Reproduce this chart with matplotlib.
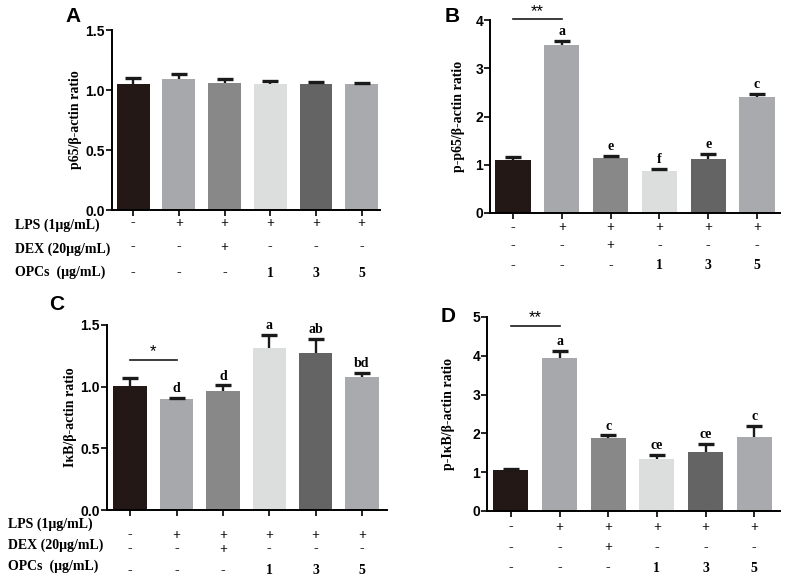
import matplotlib
matplotlib.use("Agg")
import matplotlib.pyplot as plt
from matplotlib.transforms import blended_transform_factory
import numpy as np

W, H = 787, 581

groups = ["Control", "LPS", "LPS+DEX", "LPS+OPCs1", "LPS+OPCs3", "LPS+OPCs5"]
colors = ["#231815", "#a7a8ac", "#878887", "#dcdddd", "#656464", "#a9aaad"]

lps_row = ["-", "+", "+", "+", "+", "+"]
dex_row = ["-", "-", "+", "-", "-", "-"]
opc_row = ["-", "-", "-", "1", "3", "5"]
row_names = ["LPS (1\u03bcg/mL)", "DEX (20\u03bcg/mL)", "OPCs  (\u03bcg/mL)"]

a_mean = [1.05, 1.09, 1.06, 1.05, 1.05, 1.05]
a_err = [0.05, 0.045, 0.035, 0.028, 0.014, 0.006]
a_letters = ["", "", "", "", "", ""]

b_mean = [1.09, 3.48, 1.15, 0.87, 1.11, 2.40]
b_err = [0.08, 0.09, 0.04, 0.05, 0.11, 0.07]
b_letters = ["", "a", "e", "f", "e", "c"]

c_mean = [1.005, 0.90, 0.965, 1.31, 1.275, 1.075]
c_err = [0.065, 0.008, 0.045, 0.11, 0.115, 0.035]
c_letters = ["", "d", "d", "a", "ab", "bd"]

d_mean = [1.05, 3.95, 1.87, 1.35, 1.52, 1.91]
d_err = [0.04, 0.17, 0.08, 0.09, 0.21, 0.29]
d_letters = ["", "a", "c", "ce", "ce", "c"]

fig = plt.figure(figsize=(W / 100, H / 100), dpi=100)

SANS = ["Liberation Sans", "DejaVu Sans"]
SERIF = ["Liberation Serif", "DejaVu Serif"]


def px_axes(x0, x1, ytop, ybot):
    return fig.add_axes([x0 / W, 1 - ybot / H, (x1 - x0) / W, (ybot - ytop) / H])


def fy(y):
    return 1 - y / H


def panel(ax, means, errs, letters, ymax, ystep, yfmt, ylabel, xlim,
          letter, letter_xy, ylab_x, rows_y, names_xy, sig=None):
    x = np.arange(len(means))
    ax.bar(x, means, width=0.72, color=colors, edgecolor="none", zorder=2)
    eb = ax.errorbar(x, means, yerr=[np.zeros(len(errs)), errs], fmt="none",
                     ecolor="#1a1a1a", elinewidth=1.7, capsize=5.5, capthick=2.4,
                     zorder=3)
    caps = eb.lines[1]
    if len(caps) > 1:
        caps[0].set_visible(False)
    ax.set_xlim(*xlim)
    ax.set_ylim(0, ymax)
    ticks = np.arange(0, ymax + 1e-9, ystep)
    ax.set_yticks(ticks)
    ax.set_yticklabels([yfmt.format(t) for t in ticks], family=SANS,
                       fontweight="bold", fontsize=10)
    ax.set_xticks(x)
    ax.set_xticklabels([])
    for s in ["top", "right"]:
        ax.spines[s].set_visible(False)
    for s in ["left", "bottom"]:
        ax.spines[s].set_linewidth(1.4)
    ax.tick_params(axis="both", direction="out", length=4, width=1.2, pad=1)
    ax.set_ylabel(ylabel, family=SERIF, fontweight="bold", fontsize=10, va="center")
    ax.yaxis.set_label_coords(ylab_x, 0.5)
    for i, (m, e, l) in enumerate(zip(means, errs, letters)):
        if l:
            ax.annotate(l, (i, m + e), xytext=(0, 2), textcoords="offset points",
                        ha="center", va="bottom", family=SERIF,
                        fontweight="bold", fontsize=10)
    fig.text(letter_xy[0] / W, fy(letter_xy[1]), letter, family=SANS,
             fontweight="bold", fontsize=15, ha="center", va="center")
    tr = blended_transform_factory(ax.transData, fig.transFigure)
    for row, ry in zip([lps_row, dex_row, opc_row], rows_y):
        for i, s in enumerate(row):
            ax.text(i, fy(ry), s, transform=tr, ha="center", va="center",
                    family=SERIF, fontweight="bold", fontsize=10)
    if names_xy:
        for name, (nx, ny) in zip(row_names, names_xy):
            fig.text(nx / W, fy(ny), name, family=SERIF, fontweight="bold",
                     fontsize=10, ha="left", va="center")
    if sig:
        ysig, stars, off = sig
        ax.plot([0, 1], [ysig, ysig], color="#1a1a1a", lw=1.2, clip_on=False)
        ax.annotate(stars, (0.5, ysig), xytext=(0, off), textcoords="offset points",
                    ha="center", va="bottom", family=SANS, fontsize=12,
                    annotation_clip=False)


axA = px_axes(112, 380, 30, 210)
panel(axA, a_mean, a_err, a_letters, 1.5, 0.5, "{:.1f}", "p65/\u03b2-actin ratio",
      (-0.46, 5.4), "A", (73, 16), -0.138, (223, 247, 273),
      [(15, 225), (15, 249), (15, 272)])

axB = px_axes(490, 780, 20, 213)
panel(axB, b_mean, b_err, b_letters, 4, 1, "{:.0f}", "p-p65/\u03b2-actin ratio",
      (-0.47, 5.47), "B", (452, 17), -0.11, (228, 246, 266), None,
      sig=(4.02, "**", 0))

axC = px_axes(107, 387, 325, 510)
panel(axC, c_mean, c_err, c_letters, 1.5, 0.5, "{:.1f}", "I\u03baB/\u03b2-actin ratio",
      (-0.5, 5.54), "C", (57, 305), -0.132, (535, 549, 571),
      [(8, 524), (8, 545), (8, 566)], sig=(1.22, "*", 0))

axD = px_axes(487, 780, 317, 511)
panel(axD, d_mean, d_err, d_letters, 5, 1, "{:.0f}", "p-I\u03baB/\u03b2-actin ratio",
      (-0.49, 5.53), "D", (448, 317), -0.133, (527, 548, 568), None,
      sig=(4.78, "**", 0))

fig.savefig("out.png", dpi=100)
